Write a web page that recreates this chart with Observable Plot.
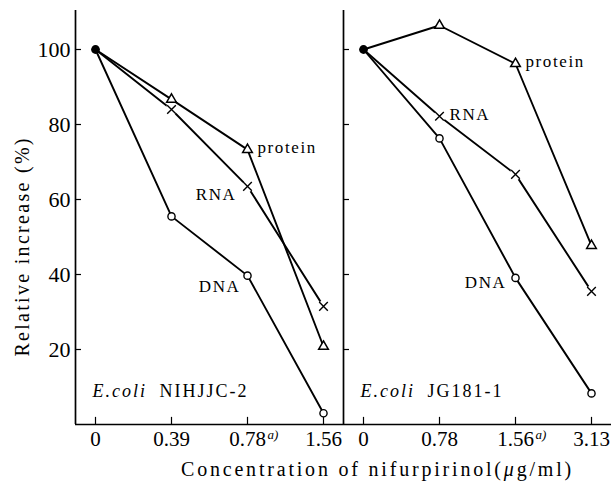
<!DOCTYPE html>
<html><head><meta charset="utf-8">
<script src="https://cdn.jsdelivr.net/npm/d3@7"></script>
<script src="https://cdn.jsdelivr.net/npm/@observablehq/plot@0.6"></script>
<style>
body{margin:0;background:#fff;}
#wrap{width:614px;height:481px;position:relative;overflow:hidden;background:#fff;font-family:"Liberation Serif",serif;}
#chart svg text{font-family:"Liberation Serif",serif;}
#xtitle{position:absolute;left:0;top:458px;width:614px;height:23px;line-height:23px;font-size:20px;letter-spacing:2.8px;padding-left:181px;box-sizing:border-box;white-space:nowrap;color:#000;}
</style>
</head><body>
<div id="wrap"><div id="chart"></div>
<div id="xtitle">Concentration of nifurpirinol(<i>μ</i>g/ml)</div></div>
<script>
// ---- data ----
const panels = ["L", "R"];
const strains = ["NIHJJC-2", "JG181-1"];
const concL = ["0", "0.39", "0.78", "1.56"];
const concR = ["0", "0.78", "1.56", "3.13"];
const footnoteL = ["", "", "a)", ""];
const footnoteR = ["", "", "a)", ""];
const seriesNames = ["protein", "RNA", "DNA"];
const proteinL = [100, 86.7, 73.3, 20.8];
const rnaL     = [100, 84.0, 63.5, 31.5];
const dnaL     = [100, 55.5, 39.7, 3.0];
const proteinR = [100, 106.4, 96.2, 47.7];
const rnaR     = [100, 82.2, 66.7, 35.5];
const dnaR     = [100, 76.3, 39.1, 8.3];
const yTicks = [20, 40, 60, 80, 100];
const yTitle = "Relative increase (%)";

// ---- tables ----
const valuesBy = {L: {protein: proteinL, RNA: rnaL, DNA: dnaL}, R: {protein: proteinR, RNA: rnaR, DNA: dnaR}};
const concBy = {L: concL, R: concR};
const footBy = {L: footnoteL, R: footnoteR};
const rows = [];
for (const p of panels) for (const s of seriesNames) valuesBy[p][s].forEach((v, i) => rows.push({fx: p, series: s, i, v}));
const pts = rows.filter(d => d.i > 0);
const starts = panels.map(p => ({fx: p, i: 0, v: valuesBy[p].protein[0]}));
const ticks = [];
for (const p of panels) concBy[p].forEach((c, i) => ticks.push({fx: p, i, label: c, foot: footBy[p][i]}));
const yt = [];
for (const p of panels) yTicks.forEach(v => yt.push({fx: p, v}));
const pick = (p, s, i) => ({fx: p, i, v: valuesBy[p][s][i], text: s});

const FF = "Liberation Serif";
const x0 = -20 / 76, x1 = 3 + 20 / 76;
const ser = {fontSize: 17, fontFamily: FF, fill: "black", lineAnchor: "middle"};

const chart = Plot.plot({
  width: 614, height: 458,
  marginLeft: 75, marginRight: 3, marginTop: 10, marginBottom: 34,
  style: {fontFamily: FF, fontSize: "20px", background: "white", color: "black"},
  fx: {domain: panels, padding: 0, axis: null},
  x: {domain: [x0, x1], axis: null},
  y: {domain: [0, 110.4], axis: null},
  marks: [
    Plot.ruleX(panels, {fx: d => d, x: () => x0, stroke: "black", strokeWidth: 1.7}),
    Plot.ruleY(panels, {fx: d => d, y: () => 0, stroke: "black", strokeWidth: 1.7}),
    // y axis: inward ticks in both panels, labels on the left one
    Plot.ruleY(yt, {fx: "fx", y: "v", x1: () => x0, x2: () => x0 + 6 / 76, stroke: "black", strokeWidth: 1.2}),
    Plot.text(yt.filter(d => d.fx === "L"), {fx: "fx", y: "v", text: d => String(d.v), frameAnchor: "left", dx: -5, textAnchor: "end", lineAnchor: "middle", fontSize: 22, fontFamily: FF, fill: "black"}),
    // x axis: inward ticks and labels
    Plot.ruleX(ticks, {fx: "fx", x: "i", y1: 0, y2: 1.9, stroke: "black", strokeWidth: 1.2}),
    Plot.text(ticks, {fx: "fx", x: "i", y: () => 0, text: "label", dy: 15, fontSize: 21, fontFamily: FF, lineAnchor: "middle", fill: "black"}),
    Plot.text(ticks.filter(d => d.foot), {fx: "fx", x: "i", y: () => 0, text: "foot", dx: 20, dy: 10, textAnchor: "start", fontSize: 13, fontFamily: FF, fontStyle: "italic", lineAnchor: "middle", fill: "black"}),
    // series
    Plot.line(rows, {fx: "fx", x: "i", y: "v", z: "series", stroke: "black", strokeWidth: 1.9}),
    Plot.dot(pts.filter(d => d.series === "RNA"), {fx: "fx", x: "i", y: "v", r: 6, fill: "white", stroke: null}),
    Plot.dot(pts.filter(d => d.series === "DNA"), {fx: "fx", x: "i", y: "v", r: 3.6, fill: "white", stroke: "black", strokeWidth: 1.4}),
    Plot.dot(pts.filter(d => d.series === "protein"), {fx: "fx", x: "i", y: "v", symbol: "triangle", r: 3.6, fill: "white", stroke: "black", strokeWidth: 1.5}),
    Plot.dot(pts.filter(d => d.series === "RNA"), {fx: "fx", x: "i", y: "v", symbol: "times", r: 4, stroke: "black", strokeWidth: 1.4}),
    Plot.dot(starts, {fx: "fx", x: "i", y: "v", r: 4.4, fill: "black", stroke: null}),
    // series labels
    Plot.text([pick("L", "protein", 2), pick("R", "protein", 2), pick("R", "RNA", 1)], {fx: "fx", x: "i", y: "v", text: "text", dx: 10, dy: -2, textAnchor: "start", ...ser}),
    Plot.text([pick("L", "RNA", 2)], {fx: "fx", x: "i", y: "v", text: "text", dx: -11, dy: 8, textAnchor: "end", ...ser}),
    Plot.text([pick("L", "DNA", 2)], {fx: "fx", x: "i", y: "v", text: "text", dx: -7, dy: 11, textAnchor: "end", ...ser}),
    Plot.text([pick("R", "DNA", 2)], {fx: "fx", x: "i", y: "v", text: "text", dx: -9, dy: 5, textAnchor: "end", ...ser}),
    // strain labels
    Plot.text(panels, {fx: d => d, text: () => "E.coli", frameAnchor: "bottom-left", dx: 17, dy: -33, textAnchor: "start", lineAnchor: "middle", fontSize: 18, fontFamily: FF, fontStyle: "italic", fill: "black"}),
    Plot.text(panels, {fx: d => d, text: (d, i) => strains[i], frameAnchor: "bottom-left", dx: 84, dy: -33, textAnchor: "start", lineAnchor: "middle", fontSize: 18, fontFamily: FF, fill: "black"}),
    // y title
    Plot.text([yTitle], {fx: () => "L", y: () => 47.5, text: d => d, frameAnchor: "left", dx: -53, rotate: -90, textAnchor: "middle", fontSize: 20, fontFamily: FF, lineAnchor: "middle", fill: "black"})
  ]
});
document.getElementById("chart").appendChild(chart);

// letter spacing, matching the wide typesetting of the original
const spacing = new Map([["protein", 1.6], ["RNA", 1.6], ["DNA", 1.6], ["E.coli", 2], [yTitle, 2.3]]);
strains.forEach(s => spacing.set(s, 2));
d3.select(chart).selectAll("text").each(function () {
  const t = this.textContent;
  if (spacing.has(t)) this.style.letterSpacing = spacing.get(t) + "px";
});
</script>
</body></html>
